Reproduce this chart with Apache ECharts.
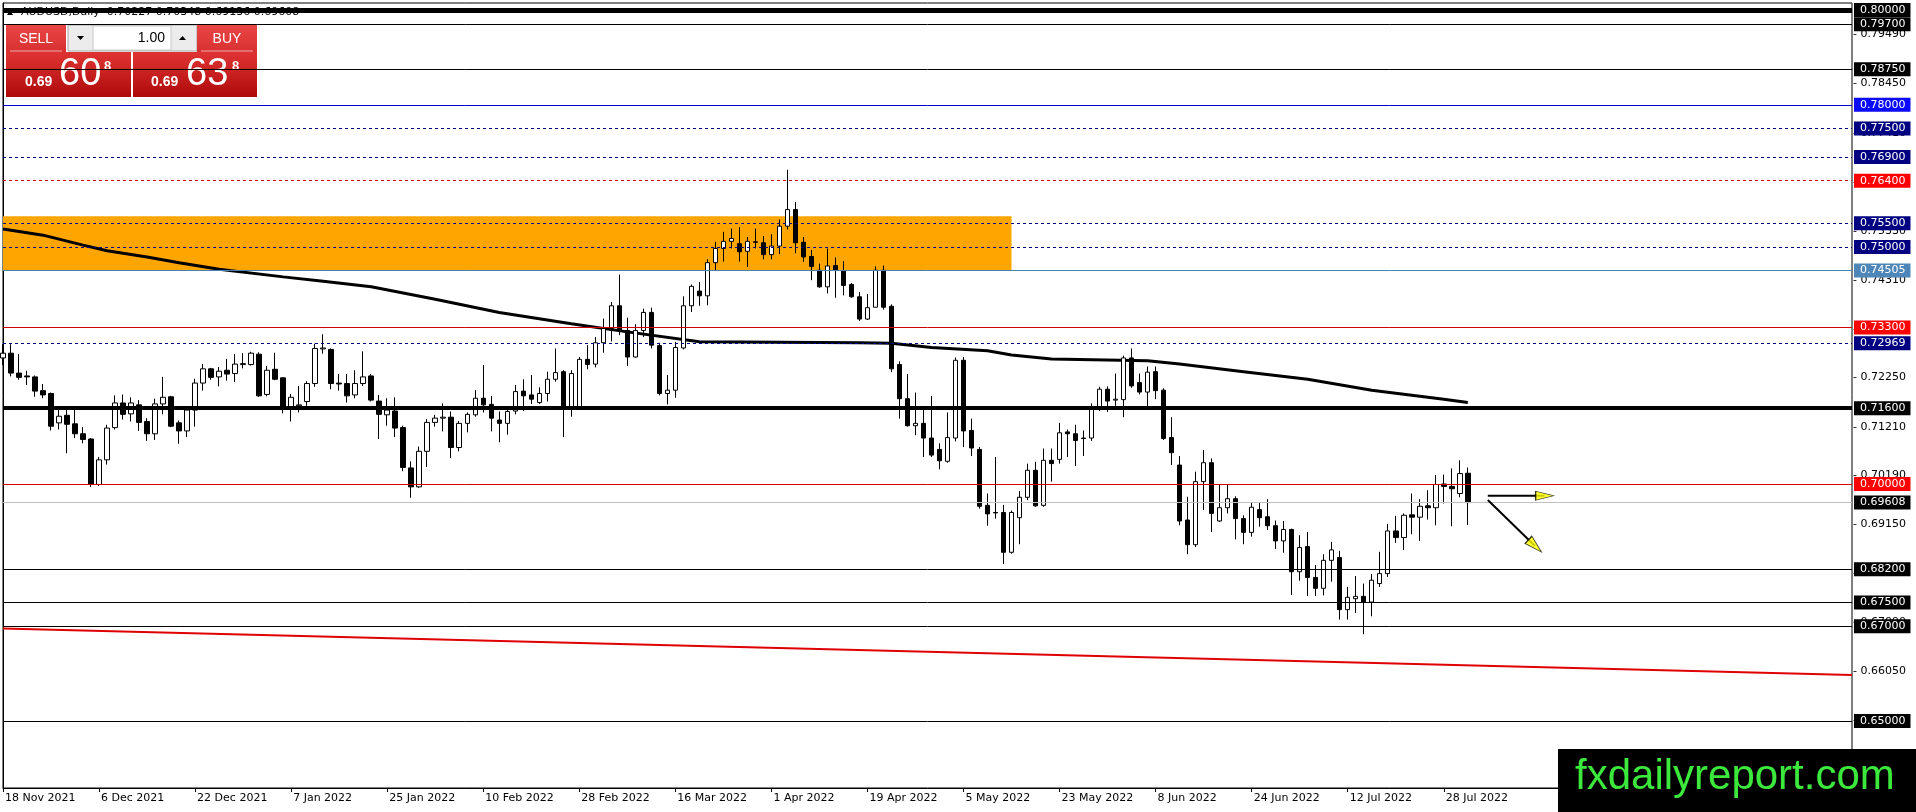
<!DOCTYPE html>
<html>
<head>
<meta charset="utf-8">
<script src="https://cdn.jsdelivr.net/npm/echarts@6/dist/echarts.min.js"></script>
<style>
  html, body { margin: 0; padding: 0; background: #fff; }
  #chart { width: 1916px; height: 812px; }
</style>
</head>
<body>
<div id="chart"></div>
<script>
// AUDUSD daily, 18 Nov 2021 .. 2 Aug 2022 (one bar per trading day)
const dateLabels = ['18 Nov 2021', '6 Dec 2021', '22 Dec 2021', '7 Jan 2022', '25 Jan 2022', '10 Feb 2022',
  '28 Feb 2022', '16 Mar 2022', '1 Apr 2022', '19 Apr 2022', '5 May 2022', '23 May 2022',
  '8 Jun 2022', '24 Jun 2022', '12 Jul 2022', '28 Jul 2022']

const opens = [
  .7266,.7276,.7234,.7228,.7226,.7197,.7191,.7129,.7145,.7127,.7106,.7095,.6999,.7051,.7119,.7171,.7148,.7167,.7132,.7106,
  .7169,.7184,.7129,.7112,.7156,.7213,.7243,.7226,.7240,.7233,.7252,.7252,.7274,.7189,.7242,.7224,.7163,.7165,.7174,.7212,
  .7285,.7284,.7213,.7212,.7188,.7212,.7228,.7175,.7146,.7154,.7119,.7034,.6994,.7069,.7130,.7139,.7141,.7077,.7128,.7146,
  .7181,.7168,.7135,.7128,.7154,.7196,.7188,.7172,.7191,.7221,.7237,.7163,.7163,.7263,.7253,.7298,.7328,.7376,.7324,.7268,
  .7324,.7362,.7292,.7191,.7198,.7287,.7376,.7407,.7397,.7467,.7497,.7512,.7507,.7491,.7511,.7509,.7484,.7502,.7544,.7579,
  .7510,.7480,.7451,.7416,.7461,.7450,.7421,.7395,.7348,.7373,.7451,.7375,.7252,.7180,.7123,.7128,.7097,.7073,.7048,.7097,
  .7261,.7113,.7073,.6955,.6940,.6940,.6856,.6929,.6972,.7029,.6955,.7050,.7052,.7110,.7106,.7097,.7097,.7158,.7200,.7177,
  .7178,.7266,.7214,.7194,.7237,.7198,.7098,.7040,.6924,.6872,.7005,.7045,.6922,.6950,.6969,.6927,.6898,.6946,.6931,.6912,
  .6880,.6904,.6815,.6868,.6803,.6780,.6839,.6845,.6735,.6758,.6763,.6751,.6790,.6811,.6901,.6887,.6935,.6930,.6954,.6950,
  .7000,.6995,.6980,.70227]
const highs = [
  .7295,.7295,.7274,.7239,.7229,.7211,.7193,.7156,.7161,.7162,.7120,.7097,.7057,.7125,.7187,.7189,.7183,.7177,.7139,.7180,
  .7226,.7186,.7134,.7161,.7222,.7253,.7245,.7247,.7264,.7274,.7276,.7279,.7278,.7249,.7277,.7225,.7190,.7207,.7217,.7296,
  .7316,.7286,.7232,.7232,.7240,.7280,.7232,.7188,.7181,.7183,.7123,.7048,.7079,.7137,.7146,.7170,.7153,.7133,.7151,.7198,
  .7251,.7186,.7153,.7160,.7209,.7221,.7230,.7204,.7237,.7286,.7240,.7240,.7268,.7293,.7310,.7349,.7384,.7442,.7351,.7337,
  .7370,.7372,.7298,.7230,.7300,.7396,.7421,.7426,.7474,.7511,.7532,.7539,.7542,.7521,.7539,.7523,.7527,.7558,.7663,.7595,
  .7521,.7494,.7465,.7497,.7478,.7470,.7424,.7405,.7401,.7459,.7461,.7379,.7259,.7232,.7193,.7156,.7186,.7086,.7151,.7267,
  .7268,.7138,.7078,.6980,.7057,.6956,.6944,.6985,.7043,.7047,.7075,.7075,.7129,.7115,.7125,.7113,.7170,.7205,.7206,.7233,
  .7271,.7286,.7233,.7248,.7248,.7202,.7141,.7059,.6973,.7026,.7072,.7054,.6998,.6998,.6974,.6934,.6961,.6961,.6968,.6923,
  .6922,.6906,.6892,.6899,.6829,.6852,.6878,.6859,.6783,.6806,.6790,.6810,.6857,.6916,.6933,.6938,.6980,.6968,.6987,.7019,
  .7020,.7033,.7050,.70348]
const lows = [
  .7251,.7227,.7220,.7209,.7184,.7181,.7113,.7115,.7065,.7097,.7086,.6994,.6996,.7041,.7115,.7136,.7132,.7112,.7091,.7093,
  .7147,.7120,.7085,.7099,.7121,.7197,.7220,.7206,.7218,.7215,.7244,.7250,.7184,.7185,.7219,.7149,.7132,.7151,.7165,.7205,
  .7275,.7200,.7197,.7172,.7181,.7207,.7174,.7095,.7123,.7099,.7027,.6971,.6992,.7036,.7121,.7111,.7055,.7069,.7109,.7142,
  .7151,.7111,.7088,.7104,.7147,.7154,.7169,.7169,.7174,.7216,.7099,.7142,.7159,.7242,.7246,.7277,.7301,.7314,.7249,.7267,
  .7310,.7286,.7187,.7168,.7182,.7284,.7363,.7376,.7377,.7451,.7469,.7497,.7469,.7458,.7497,.7474,.7474,.7485,.7537,.7487,
  .7469,.7430,.7414,.7402,.7393,.7398,.7393,.7344,.7346,.7373,.7368,.7236,.7138,.7121,.7103,.7057,.7057,.7031,.7045,.7090,
  .7078,.7059,.6948,.6912,.6927,.6831,.6853,.6873,.6966,.6952,.6952,.7005,.7043,.7057,.7038,.7059,.7091,.7154,.7152,.7165,
  .7141,.7203,.7189,.7163,.7179,.7093,.7040,.6913,.6852,.6867,.6945,.6899,.6920,.6938,.6883,.6873,.6889,.6910,.6903,.6863,
  .6855,.6766,.6796,.6764,.6764,.6765,.6794,.6714,.6714,.6728,.6683,.6721,.6783,.6804,.6876,.6861,.6894,.6880,.6925,.6913,
  .6959,.6911,.6972,.69136]
const closes = [
  .7276,.7234,.7225,.7226,.7196,.7188,.7122,.7143,.7126,.7106,.7094,.6999,.7051,.7118,.7171,.7147,.7171,.7130,.7106,.7169,
  .7183,.7122,.7112,.7156,.7213,.7243,.7225,.7238,.7232,.7253,.7254,.7276,.7186,.7240,.7221,.7160,.7183,.7167,.7212,.7286,
  .7287,.7212,.7211,.7186,.7212,.7226,.7177,.7147,.7156,.7118,.7035,.6994,.7069,.7130,.7139,.7141,.7077,.7128,.7147,.7181,
  .7167,.7139,.7128,.7153,.7195,.7186,.7179,.7191,.7221,.7235,.7160,.7233,.7263,.7252,.7298,.7328,.7376,.7324,.7268,.7324,
  .7362,.7293,.7191,.7198,.7288,.7376,.7417,.7397,.7467,.7497,.7512,.7518,.7490,.7512,.7510,.7484,.7502,.7544,.7579,.7509,
  .7479,.7459,.7416,.7460,.7451,.7419,.7395,.7348,.7372,.7451,.7373,.7243,.7180,.7123,.7128,.7097,.7061,.7049,.7098,.7261,
  .7112,.7076,.6953,.6937,.6939,.6856,.6940,.6972,.7029,.6954,.7050,.7043,.7108,.7106,.7092,.7096,.7158,.7200,.7175,.7179,
  .7266,.7207,.7194,.7236,.7197,.7096,.7066,.6922,.6872,.7005,.7045,.6938,.6950,.6969,.6927,.6898,.6951,.6929,.6912,.6880,
  .6904,.6815,.6866,.6803,.6780,.6839,.6861,.6735,.6761,.6763,.6751,.6797,.6811,.6901,.6887,.6934,.6930,.6953,.6950,.6999,
  .6995,.6990,.7022,.69608]

// 200-day moving average, read at a few bars: [bar index, value]
const maPoints = [[0,.7538],[5,.7525],[10,.7504],[13,.7492],[18,.7479],[22,.7467],[27,.7453],[35,.7437],[40,.7428],
  [46,.7416],[54,.7390],[62,.7362],[71,.7338],[78,.7321],[87,.7300],[97,.7299],[107,.7298],[111,.7297],[116,.7288],
  [123,.7281],[126,.7272],[131,.7264],[143,.7260],[147,.7253],[155,.7237],[163,.7221],[171,.7198],[180,.7179],[183,.7172]]

// horizontal levels drawn on the chart
const levelValues = [0.80000, 0.79700, 0.78750, 0.78000, 0.77500, 0.76900, 0.76400, 0.75500, 0.75000, 0.74505,
  0.73300, 0.72969, 0.71600, 0.70000, 0.69608, 0.68200, 0.67500, 0.67000, 0.65000]
// price scale ticks of the right axis
const tickValues = [0.79490, 0.78450, 0.77410, 0.76370, 0.75330, 0.74310, 0.73270, 0.72250, 0.71210, 0.70190,
  0.69150, 0.68110, 0.67090, 0.66050, 0.65010, 0.63970]

// orange zone, trend line and arrows (bar index, price)
const zoneBox = [[-1, 0.7565], [126, 0.74505]]
const trendLine = [[0, 0.66953], [231, 0.65970]]
const arrowFlat = [[185.5, 0.69753], [192.6, 0.69753]]
const arrowDown = [[185.5, 0.69662], [191.4, 0.68692]]
const header = 'AUDUSD,Daily  0.70227 0.70348 0.69136 0.69608'

const TOTAL_BARS = 232   // bars that fit across the chart, incl. empty space on the right
const cats = []
for (let i = 0; i < TOTAL_BARS; i++) cats.push(String(i))

const candles = opens.map((o, i) => [o, closes[i], lows[i], highs[i]])

// line colour, width, dash, label background per level
const NAVY = '#000080'
const levelLook = {
  '0.80000': ['#000', 5, 'solid', '#000'],
  '0.79700': ['#000', 1, 'solid', '#000'],
  '0.78750': ['#000', 1, 'solid', '#000'],
  '0.78000': ['#0000c8', 1, 'solid', '#0a0aff'],
  '0.77500': [NAVY, 1, [3, 3], NAVY],
  '0.76900': [NAVY, 1, [3, 3], NAVY],
  '0.76400': ['#d00000', 1, [3, 3], '#ff0000'],
  '0.75500': [NAVY, 1, [3, 3], NAVY],
  '0.75000': [NAVY, 1, [3, 3], NAVY],
  '0.74505': ['#4682b4', 1, 'solid', '#4f86b8'],
  '0.73300': ['#d00000', 1, 'solid', '#ff0000'],
  '0.72969': [NAVY, 1, [3, 3], NAVY],
  '0.71600': ['#000', 4, 'solid', '#000'],
  '0.70000': ['#d00000', 1, 'solid', '#ff0000'],
  '0.69608': ['#c0c0c0', 1, 'solid', '#000'],
  '0.68200': ['#000', 1, 'solid', '#000'],
  '0.67500': ['#000', 1, 'solid', '#000'],
  '0.67000': ['#000', 1, 'solid', '#000'],
  '0.65000': ['#000', 1, 'solid', '#000']
}
const levelLines = levelValues.map(v => {
  const look = levelLook[v.toFixed(5)]
  return {
    yAxis: v,
    lineStyle: { color: look[0], width: look[1], type: look[2] },
    label: { backgroundColor: look[3] }
  }
})

const FONT = 'DejaVu Sans'
const redGrad = (a, b) => ({ type: 'linear', x: 0, y: 0, x2: 0, y2: 1, colorStops: [{ offset: 0, color: a }, { offset: 1, color: b }] })

const chart = echarts.init(document.getElementById('chart'))
chart.setOption({
  animation: false,
  backgroundColor: '#fff',
  grid: { left: 3, top: 3, right: 64, bottom: 24, show: true, borderColor: '#000', borderWidth: 1, backgroundColor: '#fff' },
  xAxis: [{
    type: 'category',
    data: cats,
    boundaryGap: false,
    axisLine: { lineStyle: { color: '#000', width: 1 } },
    axisTick: { length: 4, lineStyle: { color: '#000' }, interval: i => i % 12 === 0 && i / 12 < dateLabels.length },
    axisLabel: {
      interval: i => i % 12 === 0 && i / 12 < dateLabels.length,
      formatter: (v, i) => dateLabels[i / 12] || '',
      align: 'left', padding: [0, 0, 0, 2], margin: 5,
      color: '#000', fontFamily: FONT, fontSize: 11
    },
    splitLine: { show: false }
  }, {
    type: 'value', min: 0, max: TOTAL_BARS - 1, show: false
  }],
  yAxis: {
    type: 'value',
    position: 'right',
    min: 0.63587, max: 0.80148,
    axisLine: { show: true, lineStyle: { color: '#000' } },
    axisTick: { show: false },
    axisLabel: { customValues: tickValues, formatter: v => '- ' + v.toFixed(5), color: '#000', fontFamily: FONT, fontSize: 11, margin: 1 },
    splitLine: { show: false }
  },
  series: [
    {
      // orange zone behind the candles
      type: 'line', xAxisIndex: 1, data: [], z: 1, silent: true,
      markArea: {
        silent: true,
        itemStyle: { color: '#ffa500' },
        data: [[{ coord: zoneBox[0] }, { coord: zoneBox[1] }]]
      }
    },
    {
      type: 'line', xAxisIndex: 1, data: trendLine, z: 2, silent: true,
      showSymbol: false, lineStyle: { color: '#e00000', width: 2 }
    },
    {
      type: 'candlestick', data: candles, z: 4, silent: true, barWidth: 5,
      itemStyle: { color: '#fff', color0: '#000', borderColor: '#000', borderColor0: '#000', borderWidth: 1 },
      markLine: {
        silent: true, symbol: 'none', animation: false, precision: 5,
        label: {
          position: 'end', distance: 2, color: '#fff', fontFamily: FONT, fontSize: 11,
          padding: [1, 5, 0, 6], lineHeight: 13,
          formatter: p => Number(p.value).toFixed(5)
        },
        data: levelLines
      }
    },
    {
      type: 'line', xAxisIndex: 1, data: maPoints, z: 3, silent: true,
      showSymbol: false, lineStyle: { color: '#000', width: 3 }
    },
    {
      type: 'line', xAxisIndex: 1, data: arrowFlat, z: 5, silent: true,
      showSymbol: false, lineStyle: { color: '#000', width: 2 }
    },
    {
      type: 'line', xAxisIndex: 1, data: arrowDown, z: 5, silent: true,
      showSymbol: false, lineStyle: { color: '#000', width: 2 }
    },
    {
      type: 'scatter', xAxisIndex: 1, z: 6, silent: true,
      symbol: 'triangle',
      data: [
        { value: arrowFlat[1], symbolRotate: -90, symbolSize: [9, 18] },
        { value: arrowDown[1], symbolRotate: -133, symbolSize: [10, 18] }
      ],
      itemStyle: { color: '#ffff00', borderColor: '#000', borderWidth: 1 }
    }
  ],
  graphic: [
    // header line of the chart window
    { type: 'polygon', z: 1, shape: { points: [[7, 15], [13, 15], [10, 10]] }, style: { fill: '#000' } },
    { type: 'text', z: 1, x: 21, y: 12, style: { text: header, fill: '#000', font: '11px DejaVu Sans', verticalAlign: 'middle' } },
    // one-click trading panel
    {
      type: 'group', z: 50, children: [
        { type: 'rect', shape: { x: 6, y: 25, width: 60, height: 27 }, style: { fill: redGrad('#ea4646', '#d83030') } },
        { type: 'line', shape: { x1: 10, y1: 51, x2: 62, y2: 51 }, style: { stroke: 'rgba(255,255,255,0.6)', lineWidth: 1 } },
        { type: 'text', x: 36, y: 39, style: { text: 'SELL', fill: '#fff', font: '14px Liberation Sans', align: 'center', verticalAlign: 'middle' } },
        { type: 'rect', shape: { x: 68, y: 25, width: 129, height: 26 }, style: { fill: '#ececec', stroke: '#a8a8a8', lineWidth: 1 } },
        { type: 'rect', shape: { x: 93, y: 26, width: 78, height: 24 }, style: { fill: '#fff', stroke: '#c8c8c8', lineWidth: 1 } },
        { type: 'polygon', shape: { points: [[77, 36], [84, 36], [80.5, 40]] }, style: { fill: '#000' } },
        { type: 'polygon', shape: { points: [[179, 40], [186, 40], [182.5, 36]] }, style: { fill: '#000' } },
        { type: 'text', x: 165, y: 38, style: { text: '1.00', fill: '#000', font: '14px Liberation Sans', align: 'right', verticalAlign: 'middle' } },
        { type: 'rect', shape: { x: 197, y: 25, width: 60, height: 27 }, style: { fill: redGrad('#ea4646', '#d83030') } },
        { type: 'line', shape: { x1: 201, y1: 51, x2: 253, y2: 51 }, style: { stroke: 'rgba(255,255,255,0.6)', lineWidth: 1 } },
        { type: 'text', x: 227, y: 39, style: { text: 'BUY', fill: '#fff', font: '14px Liberation Sans', align: 'center', verticalAlign: 'middle' } },
        { type: 'rect', shape: { x: 6, y: 52, width: 125, height: 45 }, style: { fill: redGrad('#e03434', '#ae0a0a') } },
        { type: 'rect', shape: { x: 133, y: 52, width: 124, height: 45 }, style: { fill: redGrad('#e03434', '#ae0a0a') } },
        { type: 'text', x: 25, y: 82, style: { text: '0.69', fill: '#fff', font: 'bold 14px Liberation Sans', verticalAlign: 'middle' } },
        { type: 'text', x: 59, y: 75, style: { text: '60', fill: '#fff', font: '38px Liberation Sans', verticalAlign: 'middle' } },
        { type: 'text', x: 104, y: 66, style: { text: '8', fill: '#fff', font: 'bold 13px Liberation Sans', verticalAlign: 'middle' } },
        { type: 'text', x: 151, y: 82, style: { text: '0.69', fill: '#fff', font: 'bold 14px Liberation Sans', verticalAlign: 'middle' } },
        { type: 'text', x: 186, y: 75, style: { text: '63', fill: '#fff', font: '38px Liberation Sans', verticalAlign: 'middle' } },
        { type: 'text', x: 232, y: 66, style: { text: '8', fill: '#fff', font: 'bold 13px Liberation Sans', verticalAlign: 'middle' } }
      ]
    },
    // watermark
    { type: 'rect', z: 50, shape: { x: 1558, y: 749, width: 358, height: 63 }, style: { fill: '#000' } },
    { type: 'text', z: 51, x: 1575, y: 777, style: { text: 'fxdailyreport.com', fill: '#3ce83c', font: '42px Liberation Sans', verticalAlign: 'middle' } }
  ]
})
</script>
</body>
</html>
